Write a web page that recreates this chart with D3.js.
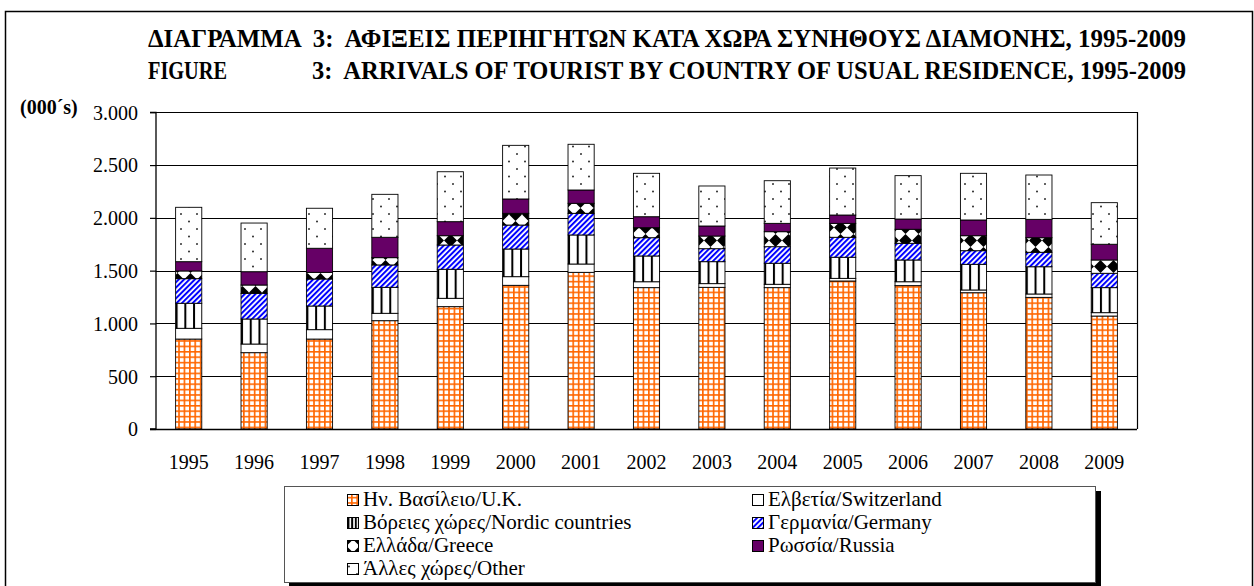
<!DOCTYPE html>
<html>
<head>
<meta charset="utf-8">
<script src="https://cdn.jsdelivr.net/npm/d3@7"></script>
<style>
html,body{margin:0;padding:0;background:#fff;}
svg{display:block;}
text{font-family:"Liberation Serif","Tinos","Times New Roman",serif;}
</style>
</head>
<body>
<script>
const years = ["1995","1996","1997","1998","1999","2000","2001","2002","2003","2004","2005","2006","2007","2008","2009"];
const seriesNames = ["Ην. Βασίλειο/U.K.","Ελβετία/Switzerland","Βόρειες χώρες/Nordic countries","Γερμανία/Germany","Ελλάδα/Greece","Ρωσσία/Russia","Άλλες χώρες/Other"];
const uk      = [852, 723, 852, 1026, 1159, 1361, 1484, 1339, 1342, 1339, 1402, 1358, 1291, 1247, 1070];
const swiss   = [102, 82, 89, 70, 79, 82, 79, 56, 35, 32, 25, 37, 26, 32, 32];
const nordic  = [237, 237, 224, 246, 275, 262, 275, 244, 208, 199, 200, 206, 243, 258, 237];
const germany = [233, 243, 256, 212, 230, 227, 205, 173, 123, 157, 189, 158, 129, 137, 136];
const greece  = [73, 79, 63, 69, 88, 111, 95, 95, 120, 142, 132, 133, 142, 138, 126];
const russia  = [88, 126, 228, 193, 133, 136, 126, 104, 95, 79, 79, 97, 149, 174, 149];
const other   = [515, 461, 379, 407, 473, 508, 433, 411, 379, 404, 445, 411, 442, 420, 394];
const yTicks  = [0, 500, 1000, 1500, 2000, 2500, 3000];
const titleLine1 = "ΔΙΑΓΡΑΜΜΑ  3:  ΑΦΙΞΕΙΣ ΠΕΡΙΗΓΗΤΩΝ ΚΑΤΑ ΧΩΡΑ ΣΥΝΗΘΟΥΣ ΔΙΑΜΟΝΗΣ, 1995-2009";
const titleLine2a = "FIGURE";
const titleLine2b = "3:  ARRIVALS OF TOURIST BY COUNTRY OF USUAL RESIDENCE, 1995-2009";
const unitLabel = "(000´s)";

const keys = ["uk","swiss","nordic","germany","greece","russia","other"];
const seriesData = [uk, swiss, nordic, germany, greece, russia, other];
const table = years.map((y, i) => {
  const o = {year: y};
  keys.forEach((k, j) => o[k] = seriesData[j][i]);
  return o;
});

const W = 1254, H = 586;
const svg = d3.select("body").append("svg").attr("width", W).attr("height", H);
const defs = svg.append("defs");

// patterns
const pUk = defs.append("pattern").attr("id","p-uk").attr("patternUnits","userSpaceOnUse")
  .attr("width",5.4).attr("height",5.4);
pUk.append("rect").attr("width",5.4).attr("height",5.4).attr("fill","#fff");
pUk.append("path").attr("d","M0,0.8H5.4M0.8,0V5.4").attr("stroke","#FF6600").attr("stroke-width",1.7);

const pNor = defs.append("pattern").attr("id","p-nordic").attr("patternUnits","objectBoundingBox")
  .attr("width",1/3).attr("height",1);
pNor.append("rect").attr("width",20).attr("height",600).attr("fill","#fff");
pNor.append("rect").attr("x",0).attr("y",0).attr("width",2).attr("height",600).attr("fill","#000");

const pGer = defs.append("pattern").attr("id","p-germany").attr("patternUnits","userSpaceOnUse")
  .attr("width",3.8).attr("height",10).attr("patternTransform","rotate(45)");
pGer.append("rect").attr("width",3.8).attr("height",10).attr("fill","#fff");
pGer.append("rect").attr("width",2).attr("height",10).attr("fill","#0000FF");

const pGre = defs.append("pattern").attr("id","p-greece").attr("patternUnits","userSpaceOnUse")
  .attr("width",13).attr("height",13).attr("x",2);
pGre.append("rect").attr("width",13).attr("height",13).attr("fill","#fff");
pGre.append("path").attr("d","M6.5,0L13,6.5L6.5,13L0,6.5Z").attr("fill","#000");

const pOth = defs.append("pattern").attr("id","p-other").attr("patternUnits","userSpaceOnUse")
  .attr("width",16).attr("height",15);
pOth.append("rect").attr("width",16).attr("height",15).attr("fill","#fff");
pOth.append("circle").attr("cx",5).attr("cy",4).attr("r",0.95).attr("fill","#222");
pOth.append("circle").attr("cx",13).attr("cy",11.5).attr("r",0.95).attr("fill","#222");

const fills = {
  uk: "url(#p-uk)", swiss: "#fff", nordic: "url(#p-nordic)", germany: "url(#p-germany)",
  greece: "url(#p-greece)", russia: "#660066", other: "url(#p-other)"
};

// outer frame
svg.append("rect").attr("x",5.5).attr("y",11.5).attr("width",1247).attr("height",620)
  .attr("fill","none").attr("stroke","#000").attr("stroke-width",1.5);

// titles
const titleStyle = t => t.attr("font-weight","bold").attr("font-size",25)
  .attr("font-family","'Liberation Serif', serif")
  .attr("lengthAdjust","spacingAndGlyphs").style("white-space","pre");
svg.append("text").attr("x",148).attr("y",47).attr("textLength",1038).call(titleStyle).text(titleLine1);
svg.append("text").attr("x",148).attr("y",79).attr("textLength",79).call(titleStyle).text(titleLine2a);
svg.append("text").attr("x",312).attr("y",79).attr("textLength",874).call(titleStyle).text(titleLine2b);

svg.append("text").attr("x",20).attr("y",114).attr("font-weight","bold").attr("font-size",20).text(unitLabel);

// scales
const x0 = 156, x1 = 1137, yBottom = 429, yTop = 112.3;
const x = d3.scaleBand().domain(years).range([x0, x1]).paddingInner(0.6).paddingOuter(0.3);
const y = d3.scaleLinear().domain([0, 3000]).range([yBottom, yTop]);
const loc = d3.formatLocale({decimal: ",", thousands: ".", grouping: [3], currency: ["", "€"]});
const fmt = loc.format(",d");

// gridlines
svg.append("g").selectAll("line").data(yTicks.filter(t => t > 0)).join("line")
  .attr("x1", x0).attr("x2", x1)
  .attr("y1", d => Math.round(y(d)) + 0.5).attr("y2", d => Math.round(y(d)) + 0.5)
  .attr("stroke", "#000").attr("stroke-width", 1);

// bars
const stack = d3.stack().keys(keys)(table);
const gBars = svg.append("g");
stack.forEach(layer => {
  gBars.append("g").selectAll("rect").data(layer).join("rect")
    .attr("x", d => x(d.data.year))
    .attr("width", x.bandwidth())
    .attr("y", d => y(d[1]))
    .attr("height", d => y(d[0]) - y(d[1]))
    .attr("fill", fills[layer.key])
    .attr("stroke", "#000").attr("stroke-width", 0.9);
});

// plot border right
svg.append("line").attr("x1", x1 + 0.5).attr("x2", x1 + 0.5).attr("y1", Math.round(yTop)).attr("y2", yBottom)
  .attr("stroke", "#000").attr("stroke-width", 1.2);

// y axis
const yAxis = d3.axisLeft(y).tickValues(yTicks).tickFormat(fmt).tickSize(6).tickPadding(12);
const gy = svg.append("g").attr("transform", `translate(${x0},0)`).call(yAxis);
gy.attr("font-family", null);
gy.select(".domain").attr("stroke", "#000").attr("stroke-width", 1.3).attr("d", `M-6,${yBottom}H0V${yTop}H-6`);
gy.selectAll(".tick line").attr("stroke", "#000").attr("stroke-width", 1.2);
gy.selectAll(".tick text").attr("font-size", 20).attr("fill", "#000").attr("dy", "0.34em");

// x axis
const xAxis = d3.axisBottom(x).tickSize(0).tickPadding(26);
const gx = svg.append("g").attr("transform", `translate(0,${yBottom})`).call(xAxis);
gx.attr("font-family", null);
gx.select(".domain").attr("stroke", "#000").attr("stroke-width", 1.3).attr("d", `M${x0 - 6},0.5H${x1}`);
gx.selectAll(".tick text").attr("font-size", 20).attr("fill", "#000");

// legend
const lg = svg.append("g");
lg.append("rect").attr("x", 289).attr("y", 491).attr("width", 812).attr("height", 100).attr("fill", "#000");
lg.append("rect").attr("x", 284.5).attr("y", 486.5).attr("width", 811).attr("height", 96)
  .attr("fill", "#fff").attr("stroke", "#555").attr("stroke-width", 1);
const legendPos = [
  {k: 0, col: 0, row: 0}, {k: 1, col: 1, row: 0},
  {k: 2, col: 0, row: 1}, {k: 3, col: 1, row: 1},
  {k: 4, col: 0, row: 2}, {k: 5, col: 1, row: 2},
  {k: 6, col: 0, row: 3}
];
const colX = [347, 752];
legendPos.forEach(p => {
  const bx = colX[p.col], base = 506 + p.row * 23;
  lg.append("rect").attr("x", bx + 0.5).attr("y", base - 11.5).attr("width", 11).attr("height", 11)
    .attr("fill", fills[keys[p.k]]).attr("stroke", "#000").attr("stroke-width", 1);
  lg.append("text").attr("x", bx + 16).attr("y", base).attr("font-size", 21).attr("fill", "#000")
    .text(seriesNames[p.k]);
});
</script>
</body>
</html>
